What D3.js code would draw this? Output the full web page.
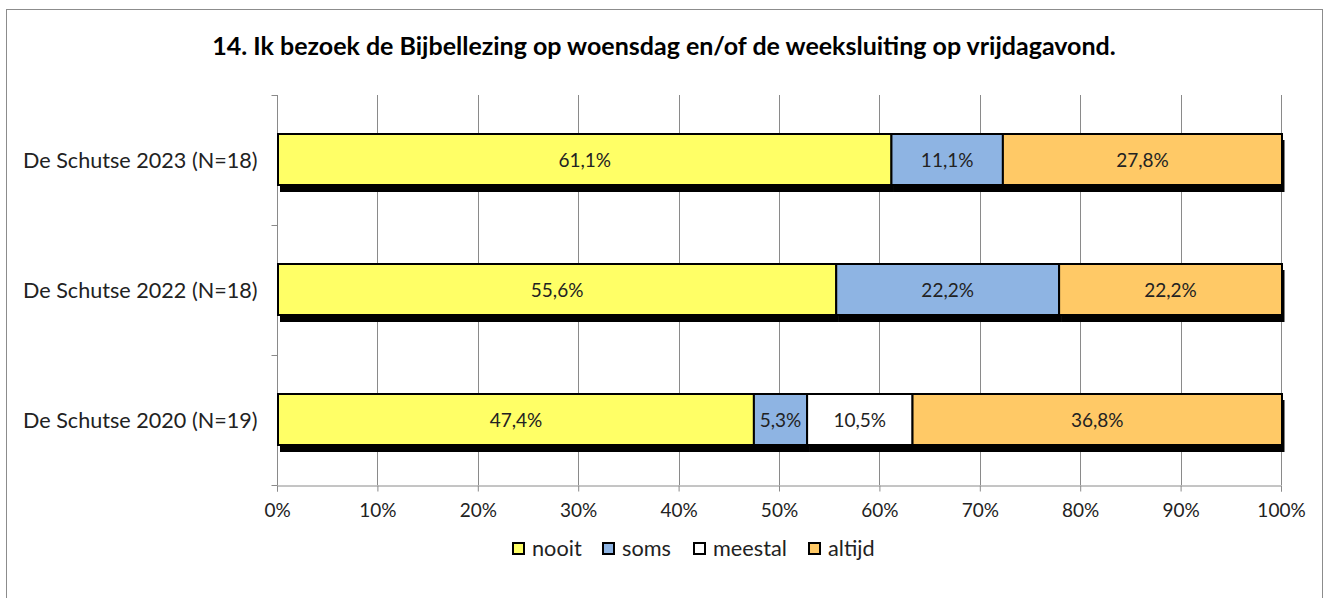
<!DOCTYPE html>
<html>
<head>
<meta charset="utf-8">
<title>Bijbellezing</title>
<script src="https://cdn.jsdelivr.net/npm/d3@7"></script>
<style>
  body { margin: 0; background: #fff; }
  text { font-family: Lato, "Open Sans", sans-serif; }
</style>
</head>
<body>
<div id="chart"></div>
<script>
// data
var categories = ["De Schutse 2023 (N=18)", "De Schutse 2022 (N=18)", "De Schutse 2020 (N=19)"];
var seriesNames = ["nooit", "soms", "meestal", "altijd"];
var nooit   = [61.1, 55.6, 47.4];
var soms    = [11.1, 22.2, 5.3];
var meestal = [0, 0, 10.5];
var altijd  = [27.8, 22.2, 36.8];
var xTicks  = [0, 10, 20, 30, 40, 50, 60, 70, 80, 90, 100];
var title = "14. Ik bezoek de Bijbellezing op woensdag en/of de weeksluiting op vrijdagavond.";

var colors = ["#FFFF66", "#8EB4E3", "#FFFFFF", "#FFC966"];
var values = [nooit, soms, meestal, altijd];

var w = 1331, h = 598;
var mLeft = 277, mRight = 1281, mTop = 95, mBottom = 485;

var svg = d3.select("#chart").append("svg")
    .attr("width", w)
    .attr("height", h);

// outer border
svg.append("rect")
   .attr("x", 6.5).attr("y", 9.5)
   .attr("width", 1316).attr("height", 600)
   .attr("fill", "none")
   .attr("stroke", "#8c8c8c");

svg.append("text")
   .attr("x", 664).attr("y", 55)
   .attr("text-anchor", "middle")
   .attr("font-size", "25px")
   .attr("font-weight", "bold")
   .attr("fill", "#000")
   .text(title);

var xScale = d3.scaleLinear().domain([0, 100]).range([mLeft, mRight]);
var yScale = d3.scaleBand().domain(categories).range([mTop, mBottom])
               .paddingInner(0.6).paddingOuter(0.3);

// gridlines
svg.append("g").selectAll("line")
   .data(xTicks.slice(1))
   .enter().append("line")
   .attr("x1", (d) => Math.round(xScale(d)) + 0.5)
   .attr("x2", (d) => Math.round(xScale(d)) + 0.5)
   .attr("y1", mTop).attr("y2", mBottom)
   .attr("stroke", "#8a8a8a");

// x axis
var xAxis = svg.append("g")
   .attr("transform", "translate(0," + (mBottom + 0.5) + ")")
   .call(d3.axisBottom(xScale).tickValues(xTicks).tickSize(6).tickPadding(12)
           .tickFormat((d) => d + "%"));
xAxis.select(".domain").attr("stroke", "#8a8a8a");
xAxis.selectAll(".tick line").attr("stroke", "#8a8a8a");
xAxis.selectAll("text").attr("font-size", "19px").attr("fill", "#222")
     .style("font-family", "Lato, sans-serif");

// y axis, ticks between categories
var yg = svg.append("g").attr("transform", "translate(" + (mLeft + 0.5) + ",0)");
yg.append("line").attr("y1", mTop).attr("y2", mBottom).attr("stroke", "#8a8a8a");
var bounds = [mTop].concat(categories.map((c) => yScale(c) + yScale.step() * 0.7));
yg.selectAll(".yt").data(bounds).enter().append("line")
  .attr("x1", -6).attr("x2", 0)
  .attr("y1", (d) => Math.round(d) + 0.5).attr("y2", (d) => Math.round(d) + 0.5)
  .attr("stroke", "#8a8a8a");
yg.selectAll(".yl").data(categories).enter().append("text")
  .attr("x", -20)
  .attr("y", (d) => yScale(d) + yScale.bandwidth() / 2)
  .attr("dy", "0.35em")
  .attr("text-anchor", "end")
  .attr("font-size", "21.6px")
  .attr("fill", "#222")
  .text((d) => d);

// stacked segments
var segs = [];
categories.forEach((c, i) => {
    var x0 = 0;
    values.forEach((s, k) => {
        if (s[i] > 0) segs.push({cat: c, k: k, x0: x0, x1: x0 + s[i], v: s[i]});
        x0 += s[i];
    });
});

// shadows (continuous under each stacked bar)
svg.append("g").selectAll("rect")
   .data(segs).enter().append("rect")
   .attr("x", (d) => xScale(d.x0) + 3)
   .attr("y", (d) => yScale(d.cat) + 6)
   .attr("width", (d) => xScale(d.x1) - xScale(d.x0) + 0.5)
   .attr("height", yScale.bandwidth())
   .attr("fill", "#000");

svg.append("g").selectAll("rect")
   .data(segs).enter().append("rect")
   .attr("x", (d) => xScale(d.x0) + 1)
   .attr("y", (d) => yScale(d.cat))
   .attr("width", (d) => xScale(d.x1) - xScale(d.x0))
   .attr("height", yScale.bandwidth() - 1)
   .attr("fill", (d) => colors[d.k])
   .attr("stroke", "#000")
   .attr("stroke-width", 2);

svg.append("g").selectAll("text")
   .data(segs).enter().append("text")
   .attr("x", (d) => xScale((d.x0 + d.x1) / 2) + 1)
   .attr("y", (d) => yScale(d.cat) + yScale.bandwidth() / 2)
   .attr("dy", "0.35em")
   .attr("text-anchor", "middle")
   .attr("font-size", "19px")
   .attr("fill", "#222")
   .text((d) => d.v.toFixed(1).replace(".", ",") + "%");

// legend
var legX = [512, 602, 693, 808];
var leg = svg.append("g").selectAll("g")
   .data(seriesNames).enter().append("g")
   .attr("transform", (d, i) => "translate(" + legX[i] + ",542)");
leg.append("rect")
   .attr("x", 1).attr("y", 1).attr("width", 11).attr("height", 11)
   .attr("fill", (d, i) => colors[i])
   .attr("stroke", "#000").attr("stroke-width", 2);
leg.append("text")
   .attr("x", 20).attr("y", 13.5)
   .attr("font-size", "21.7px")
   .attr("fill", "#222")
   .text((d) => d);
</script>
</body>
</html>
